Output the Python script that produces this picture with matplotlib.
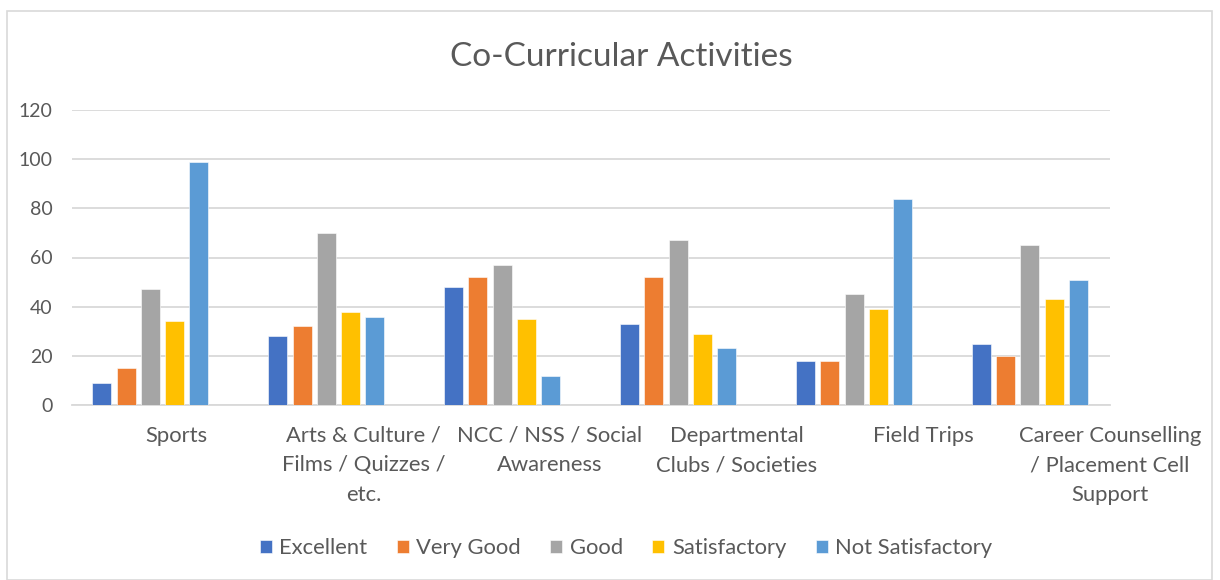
import numpy as np
import matplotlib
matplotlib.use("Agg")
import matplotlib.pyplot as plt
from matplotlib.patches import Rectangle

categories = ["Sports", "Arts & Culture /\nFilms / Quizzes /\netc.", "NCC / NSS / Social\nAwareness",
              "Departmental\nClubs / Societies", "Field Trips", "Career Counselling\n/ Placement Cell\nSupport"]
series_names = ["Excellent", "Very Good", "Good", "Satisfactory", "Not Satisfactory"]
excellent = [9, 28, 48, 33, 18, 25]
very_good = [15, 32, 52, 52, 18, 20]
good = [47, 70, 57, 67, 45, 65]
satisfactory = [34, 38, 35, 29, 39, 43]
not_satisfactory = [99, 36, 12, 23, 84, 51]
yticks = [0, 20, 40, 60, 80, 100, 120]

colors = ["#4472C4", "#ED7D31", "#A5A5A5", "#FFC000", "#5B9BD5"]
text_color = "#595959"
grid_color = "#D9D9D9"

plt.rcParams['font.family'] = ['Lato', 'DejaVu Sans']

fig = plt.figure(figsize=(12.2, 5.8), dpi=100)
fig.patches.append(Rectangle((7/1220, 0), (1212-7)/1220, 1 - 11/580, transform=fig.transFigure,
                             fill=False, edgecolor=grid_color, linewidth=1.2))
ax = fig.add_axes([72/1220, 1 - 405/580, (1110-72)/1220, (405-110)/580])

x = np.arange(len(categories))
pitch = 0.138
width = 0.108
all_series = [excellent, very_good, good, satisfactory, not_satisfactory]
for i, (name, vals) in enumerate(zip(series_names, all_series)):
    ax.bar(x + (i - 2) * pitch, vals, width=width, color=colors[i], label=name,
           edgecolor="white", linewidth=0.4, zorder=3)

ax.set_ylim(0, 120)
ax.set_yticks(yticks)
ax.set_xlim(-0.4455, 5.4455)
ax.yaxis.grid(True, color=grid_color, linewidth=1.3, zorder=0)
for s in ["top", "right", "left"]:
    ax.spines[s].set_visible(False)
ax.spines["bottom"].set_color(grid_color)
ax.spines["bottom"].set_linewidth(1.3)
ax.tick_params(axis="y", length=0, pad=14, labelsize=14, labelcolor=text_color)
ax.tick_params(axis="x", length=0, pad=15, labelsize=15.8, labelcolor=text_color)
label_pos = x * 1.061 + 0.15
ax.set_xticks(label_pos)
ax.set_xticklabels(categories, linespacing=1.6, va="top")

fig.text(621/1220, 1 - 57/580, "Co-Curricular Activities", ha="center", va="center",
         fontsize=24, color=text_color)

leg = fig.legend(loc="center", bbox_to_anchor=(626/1220, 1 - 548/580), ncol=5, frameon=False,
                 fontsize=15.8, handlelength=0.55, handleheight=0.55, handletextpad=0.35,
                 columnspacing=1.33, labelcolor=text_color)

fig.savefig("out.png", dpi=100, facecolor="white")
